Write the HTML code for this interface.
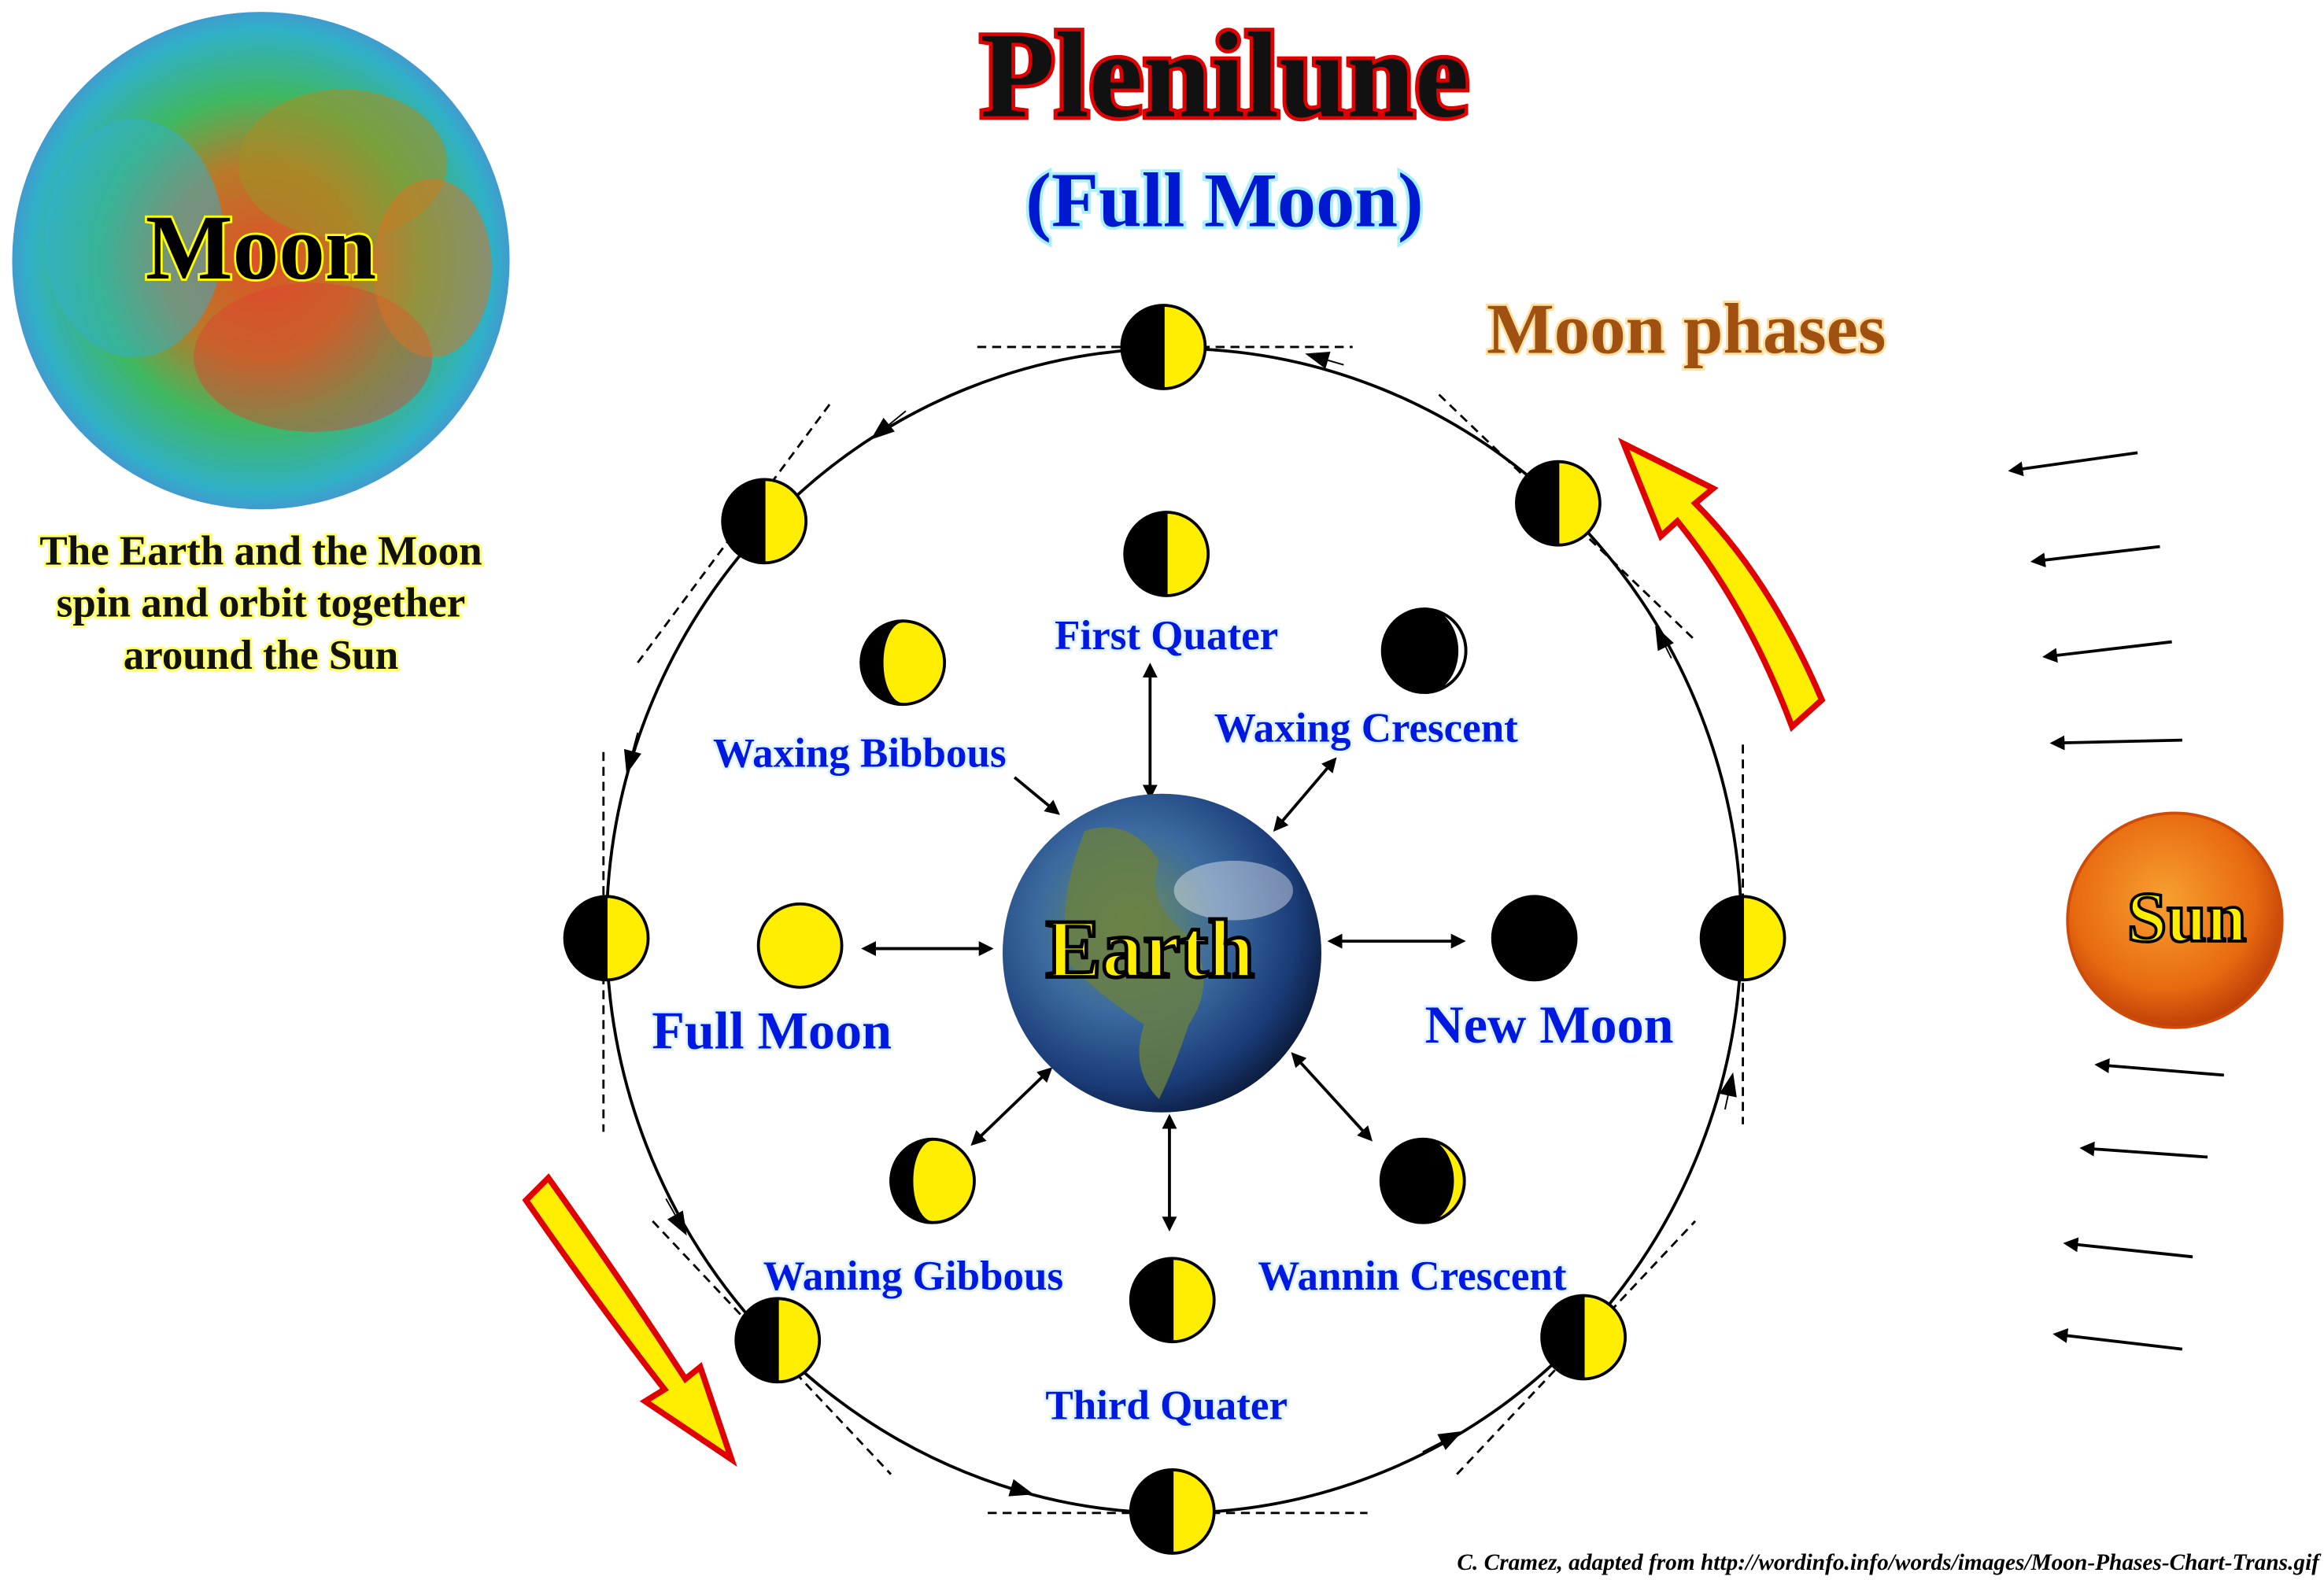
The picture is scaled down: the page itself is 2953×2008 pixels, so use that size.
<!DOCTYPE html>
<html><head><meta charset="utf-8"><style>
html,body{margin:0;padding:0;background:#fff}
svg{display:block}
text{font-family:"Liberation Serif",serif;font-weight:bold}
</style></head><body>
<svg width="2953" height="2008" viewBox="0 0 1560 1061" xmlns="http://www.w3.org/2000/svg">
<defs>
<radialGradient id="mg" cx="50%" cy="50%" r="55%">
<stop offset="0" stop-color="#e05028"/><stop offset="0.35" stop-color="#b87a28"/><stop offset="0.6" stop-color="#40b860"/><stop offset="0.85" stop-color="#30b0c8"/><stop offset="1" stop-color="#5a7ad8"/></radialGradient>
<radialGradient id="eg" cx="40%" cy="40%" r="65%">
<stop offset="0" stop-color="#6f8f5a"/><stop offset="0.45" stop-color="#3b6aa0"/><stop offset="0.8" stop-color="#1a3c78"/><stop offset="1" stop-color="#0b1a3a"/></radialGradient>
<radialGradient id="sg" cx="45%" cy="40%" r="60%">
<stop offset="0" stop-color="#f7a030"/><stop offset="0.7" stop-color="#e86a10"/><stop offset="1" stop-color="#c04008"/></radialGradient>
<marker id="ah" markerWidth="10" markerHeight="10" refX="8" refY="5" orient="auto-start-reverse" markerUnits="userSpaceOnUse"><path d="M0,0 L10,5 L0,10 z" fill="#000"/></marker>
<marker id="ah2" markerWidth="16" markerHeight="12" refX="14" refY="6" orient="auto" markerUnits="userSpaceOnUse"><path d="M0,0 L16,6 L0,12 z" fill="#000"/></marker>
<g id="half"><circle r="28" fill="#ffee00"/><path d="M0,-28 A28,28 0 0,0 0,28 z" fill="#000"/><circle r="28" fill="none" stroke="#000" stroke-width="2"/><line x1="0" y1="-28" x2="0" y2="28" stroke="#000" stroke-width="1.5"/></g>
</defs>

<!-- Moon -->
<circle cx="175" cy="175" r="167" fill="url(#mg)"/>
<ellipse cx="90" cy="160" rx="60" ry="80" fill="#30b0d0" opacity="0.5"/>
<ellipse cx="230" cy="110" rx="70" ry="50" fill="#a09028" opacity="0.6"/>
<ellipse cx="210" cy="240" rx="80" ry="50" fill="#e04030" opacity="0.45"/>
<ellipse cx="290" cy="180" rx="40" ry="60" fill="#e07020" opacity="0.5"/>
<text x="175" y="187" font-size="62" text-anchor="middle" fill="#000" stroke="#ffff00" stroke-width="3" paint-order="stroke">Moon</text>
<g font-size="28" text-anchor="middle" fill="#111" stroke="#ffff66" stroke-width="3" paint-order="stroke">
<text x="175" y="379">The Earth and the Moon</text>
<text x="175" y="414">spin and orbit together</text>
<text x="175" y="449">around the Sun</text></g>

<!-- Titles -->
<text x="822" y="78" font-size="82" text-anchor="middle" fill="#111" stroke="#e00000" stroke-width="5" paint-order="stroke">Plenilune</text>
<text x="822" y="152" font-size="52" text-anchor="middle" fill="#0018d0" stroke="#a8f0ff" stroke-width="4" paint-order="stroke">(Full Moon)</text>
<text x="1132" y="237" font-size="48" text-anchor="middle" fill="#a05010" stroke="#ffe0a0" stroke-width="3" paint-order="stroke">Moon phases</text>

<!-- orbit -->
<ellipse cx="788" cy="625" rx="381" ry="391" fill="none" stroke="#000" stroke-width="2"/>
<g stroke="#000" stroke-width="1.5" stroke-dasharray="6,4" fill="none">
<line x1="656" y1="233" x2="908" y2="233"/><line x1="663" y1="1016" x2="918" y2="1016"/>
<line x1="405" y1="505" x2="405" y2="760"/><line x1="1170" y1="500" x2="1170" y2="755"/>
<line x1="428" y1="445" x2="558" y2="270"/><line x1="966" y1="265" x2="1138" y2="430"/>
<line x1="438" y1="820" x2="598" y2="990"/><line x1="978" y1="990" x2="1138" y2="820"/>
</g>
<g fill="none" stroke="#000" stroke-width="1" marker-end="url(#ah2)">
<path d="M608,276 L586,294"/><path d="M428,492 L421,518"/><path d="M447,805 L460,828"/><path d="M665,995 L692,1003"/>
<path d="M955,975 L980,962"/><path d="M1158,745 L1163,722"/><path d="M1122,442 L1112,422"/><path d="M902,245 L878,238"/>
</g>

<!-- orbit moons -->
<use href="#half" x="781" y="233"/><use href="#half" x="513" y="350"/><use href="#half" x="407" y="630"/>
<use href="#half" x="522" y="900"/><use href="#half" x="787" y="1015"/><use href="#half" x="1063" y="898"/>
<use href="#half" x="1170" y="630"/><use href="#half" x="1046" y="338"/>

<!-- inner moons -->
<use href="#half" x="783" y="372"/><use href="#half" x="787" y="873"/>
<g stroke="#000" stroke-width="2">
<circle cx="606" cy="445" r="28" fill="#ffee00"/><path d="M606,417 A28,28 0 0,0 606,473 A14,28 0 0,1 606,417z" fill="#000"/>
<circle cx="956" cy="437" r="28" fill="#000"/><path d="M956,409 A28,28 0 0,1 956,465 A22,28 0 0,0 956,409z" fill="#fff"/>
<circle cx="537" cy="635" r="28" fill="#ffee00"/>
<circle cx="1030" cy="630" r="28" fill="#000"/>
<circle cx="626" cy="793" r="28" fill="#ffee00"/><path d="M626,765 A28,28 0 0,0 626,821 A14,28 0 0,1 626,765z" fill="#000"/>
<circle cx="955" cy="793" r="28" fill="#000"/><path d="M955,765 A28,28 0 0,1 955,821 A20,28 0 0,0 955,765z" fill="#ffee00"/>
</g>

<!-- arrows to earth -->
<g stroke="#000" stroke-width="2" marker-start="url(#ah)" marker-end="url(#ah)">
<line x1="772" y1="447" x2="772" y2="535"/><line x1="580" y1="637" x2="665" y2="637"/>
<line x1="893" y1="632" x2="982" y2="632"/><line x1="785" y1="750" x2="785" y2="825"/>
<line x1="653" y1="768" x2="705" y2="718"/><line x1="868" y1="708" x2="920" y2="765"/>
<line x1="856" y1="557" x2="896" y2="510"/>
</g>
<line x1="681" y1="522" x2="710" y2="546" stroke="#000" stroke-width="2" marker-end="url(#ah)"/>

<!-- Earth -->
<circle cx="780" cy="640" r="107" fill="url(#eg)"/>
<path d="M728,558 q30,-10 50,20 q-10,30 20,50 q20,30 0,60 q-10,30 -20,50 q-20,-20 -10,-50 q-30,-20 -50,-40 q-10,-40 10,-90z" fill="#6a8040" opacity="0.8"/>
<ellipse cx="828" cy="598" rx="40" ry="20" fill="#fff" opacity="0.4"/>
<text x="772" y="656" font-size="56" text-anchor="middle" fill="#ffee00" stroke="#000" stroke-width="2.5">Earth</text>

<!-- labels -->
<g font-size="28" text-anchor="middle" fill="#0018e0" stroke="#e0f4ff" stroke-width="3" paint-order="stroke">
<text x="783" y="436">First Quater</text>
<text x="577" y="515">Waxing Bibbous</text>
<text x="917" y="498">Waxing Crescent</text>
<text x="518" y="704" font-size="36">Full Moon</text>
<text x="1040" y="700" font-size="36">New Moon</text>
<text x="613" y="866">Waning Gibbous</text>
<text x="948" y="866">Wannin Crescent</text>
<text x="783" y="953">Third Quater</text>
</g>

<!-- big curved arrows -->
<path d="M1203,488 L1223,470 Q1188,388 1138,338 L1150,328 L1090,298 L1115,360 L1126,350 Q1173,408 1203,488z" fill="#ffee00" stroke="#e00000" stroke-width="4"/>
<path d="M368,791 L353,806 Q403,878 446,933 L433,941 L491,980 L470,918 L460,926 Q416,858 368,791z" fill="#ffee00" stroke="#e00000" stroke-width="4"/>

<!-- Sun -->
<circle cx="1460" cy="618" r="72" fill="url(#sg)" stroke="#d04a08" stroke-width="2"/>
<text x="1468" y="632" font-size="48" text-anchor="middle" fill="#ffee00" stroke="#000" stroke-width="2">Sun</text>
<g stroke="#000" stroke-width="2" marker-end="url(#ah)">
<line x1="1435" y1="304" x2="1350" y2="316"/><line x1="1450" y1="367" x2="1365" y2="377"/>
<line x1="1458" y1="431" x2="1373" y2="441"/><line x1="1465" y1="497" x2="1378" y2="499"/>
<line x1="1493" y1="722" x2="1408" y2="715"/><line x1="1482" y1="777" x2="1398" y2="771"/>
<line x1="1472" y1="844" x2="1387" y2="835"/><line x1="1465" y1="906" x2="1380" y2="896"/>
</g>

<text x="1557" y="1054" font-size="15.5" font-style="italic" text-anchor="end" fill="#000">C. Cramez, adapted from  http://wordinfo.info/words/images/Moon-Phases-Chart-Trans.gif</text>
</svg>
</body></html>
